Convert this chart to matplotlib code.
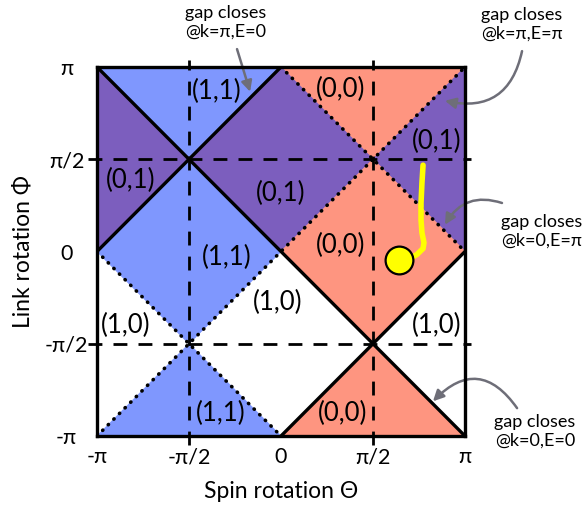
import numpy as np
import matplotlib
matplotlib.use("Agg")
import matplotlib.pyplot as plt

# Everything in units of pi
ticks = [-1, -0.5, 0, 0.5, 1]
tick_labels = ["-π", "-π/2", "0", "π/2", "π"]

# quadrant centres and phase of their top/left/right/bottom triangles
quad_cx = [-0.5, 0.5, -0.5, 0.5]
quad_cy = [0.5, 0.5, -0.5, -0.5]
quad_phases = [
    ["(1,1)", "(0,1)", "(0,1)", "(1,1)"],
    ["(0,0)", "(0,1)", "(0,1)", "(0,0)"],
    ["(1,1)", "(1,0)", "(1,0)", "(1,1)"],
    ["(0,0)", "(1,0)", "(1,0)", "(0,0)"],
]
phase_colors = {"(0,0)": "#fe9580", "(1,1)": "#7f97fe", "(0,1)": "#7c5ebe", "(1,0)": None}

# phase boundaries (x0, y0, x1, y1)
solid_lines = [(-1, 1, 1, -1), (-1, 0, 0, 1), (0, -1, 1, 0)]
dotted_lines = [(-1, -1, 1, 1), (0, 1, 1, 0), (-1, 0, 0, -1)]

region_labels = ["(1,1)", "(0,1)", "(0,1)", "(0,0)", "(0,1)", "(0,0)",
                 "(1,1)", "(1,0)", "(1,0)", "(1,1)", "(1,0)", "(0,0)"]
label_x = [-0.348, -0.815, 0.0, 0.321, 0.848, 0.321,
           -0.293, -0.016, -0.842, -0.326, 0.848, 0.337]
label_y = [0.866, 0.387, 0.317, 0.876, 0.597, 0.032,
           -0.032, -0.274, -0.403, -0.876, -0.403, -0.876]

# yellow trajectory
traj_x = [0.772, 0.766, 0.761, 0.761, 0.766, 0.777, 0.772, 0.739, 0.701, 0.641]
traj_y = [0.468, 0.371, 0.263, 0.172, 0.102, 0.048, 0.016, -0.016, -0.038, -0.048]

# annotations: text, text pos, arrow start, arrow end, curvature
notes = ["gap closes\n@k=π,E=0", "gap closes\n@k=π,E=π",
         "gap closes\n@k=0,E=π", "gap closes\n@k=0,E=0"]
note_x = [-0.299, 1.310, 1.418, 1.380]
note_y = [1.242, 1.231, 0.108, -0.973]
arrow_start = [(-0.239, 1.097), (1.310, 1.086), (1.201, 0.263), (1.283, -0.849)]
arrow_end = [(-0.168, 0.866), (0.891, 0.817), (0.891, 0.145), (0.826, -0.812)]
arrow_rad = [0.0, -0.5, 0.4, 0.6]

plt.rcParams["font.family"] = ["Lato", "DejaVu Sans"]

fig = plt.figure(figsize=(5.84, 5.08), dpi=100)
ax = fig.add_axes([97 / 584, 1 - 436 / 508, 368 / 584, 369 / 508])
ax.set_xlim(-1, 1)
ax.set_ylim(-1, 1)

for cx, cy, phases in zip(quad_cx, quad_cy, quad_phases):
    x0, x1, y0, y1 = cx - 0.5, cx + 0.5, cy - 0.5, cy + 0.5
    tris = [
        [(x0, y1), (x1, y1), (cx, cy)],
        [(x0, y1), (x0, y0), (cx, cy)],
        [(x1, y1), (x1, y0), (cx, cy)],
        [(x0, y0), (x1, y0), (cx, cy)],
    ]
    for tri, ph in zip(tris, phases):
        if phase_colors[ph] is None:
            continue
        xs, ys = zip(*tri)
        ax.fill(xs, ys, color=phase_colors[ph], lw=0.6, zorder=1)

for v in [-0.5, 0.5]:
    ax.plot([v, v], [-1.05, 1.04], color="black", lw=2,
            linestyle=(0, (5, 4)), clip_on=False, zorder=2)
    ax.plot([-1.05, 1.03], [v, v], color="black", lw=2,
            linestyle=(0, (5, 4)), clip_on=False, zorder=2)

for x0, y0, x1, y1 in solid_lines:
    ax.plot([x0, x1], [y0, y1], color="black", lw=2.4, zorder=3,
            solid_capstyle="butt")
for x0, y0, x1, y1 in dotted_lines:
    ax.plot([x0, x1], [y0, y1], color="black", lw=2.6, zorder=3,
            linestyle=(0, (0.1, 2.1)), dash_capstyle="round")

for txt, x, y in zip(region_labels, label_x, label_y):
    ax.text(x, y, txt, fontsize=18.5, ha="center", va="center", zorder=5)

ax.plot(traj_x, traj_y, color="#ffff00", lw=4, zorder=4, solid_capstyle="round")
ax.plot(traj_x[-1], traj_y[-1], "o", ms=20, mfc="#ffff00", mec="black",
        mew=1.6, zorder=5)

for txt, x, y, s, e, r in zip(notes, note_x, note_y, arrow_start, arrow_end, arrow_rad):
    ax.text(x, y, txt, fontsize=13, ha="center", va="center",
            linespacing=1.2, clip_on=False)
    ax.annotate("", xy=e, xytext=s, annotation_clip=False,
                arrowprops=dict(arrowstyle="-|>", color="#6e6e78", lw=1.8,
                                mutation_scale=16, shrinkA=0, shrinkB=0,
                                connectionstyle=f"arc3,rad={r}"))

ax.set_xticks(ticks)
ax.set_xticklabels(tick_labels, fontsize=15.5)
ax.set_yticks(ticks)
ax.set_yticklabels(tick_labels, fontsize=15.5, ha="center")
ax.tick_params(axis="x", length=0, pad=8)
ax.tick_params(axis="y", length=0, pad=22)
for sp in ax.spines.values():
    sp.set_linewidth(2.4)
    sp.set_zorder(6)

ax.set_xlabel("Spin rotation Θ", fontsize=16.5, labelpad=10)
ax.set_ylabel("Link rotation Φ", fontsize=16.5, labelpad=8)

fig.savefig("out.png", dpi=100)
